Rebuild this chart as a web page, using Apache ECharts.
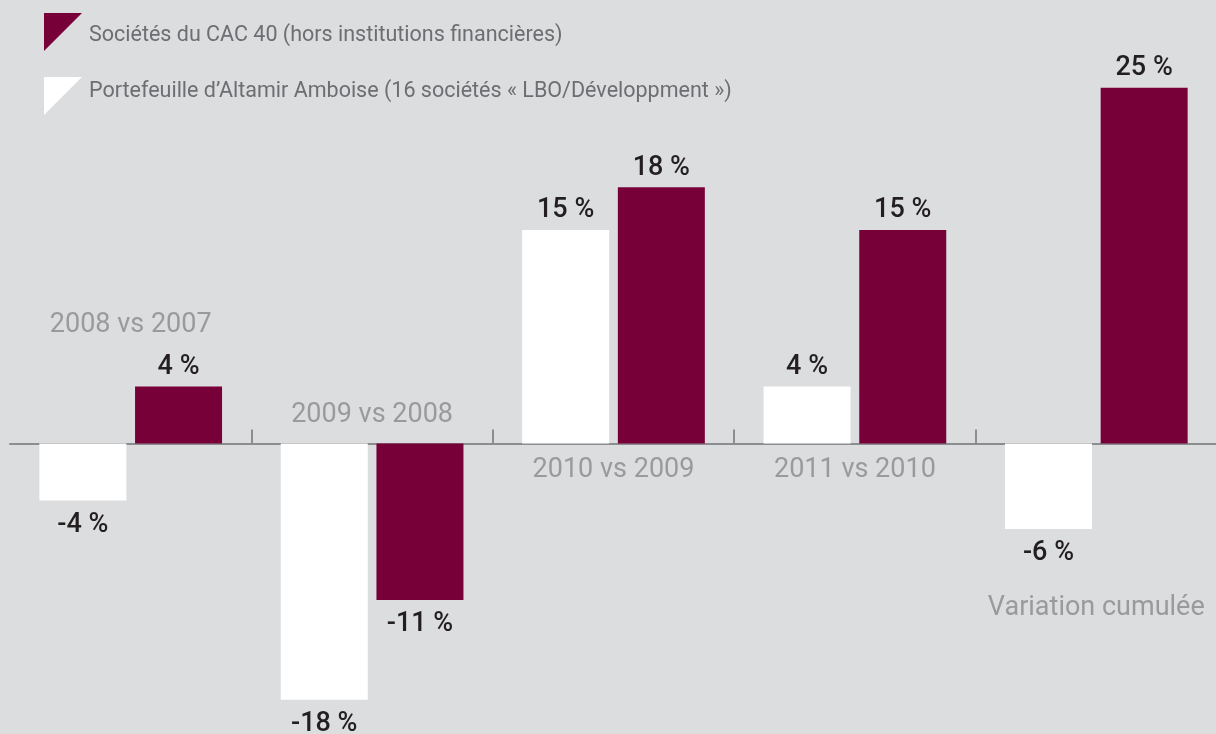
<!DOCTYPE html>
<html><head><meta charset="utf-8">
<script src="https://cdn.jsdelivr.net/npm/echarts@6/dist/echarts.min.js"></script>
<style>html,body{margin:0;padding:0;background:#dcdddf}#c{width:1216px;height:734px}</style>
</head><body><div id="c"></div>
<script>
const categories = ['2008 vs 2007', '2009 vs 2008', '2010 vs 2009', '2011 vs 2010', 'Variation cumulée'];
const altamirValues = [-4, -18, 15, 4, -6];
const cacValues = [4, -11, 18, 15, 25];
const altamirName = 'Portefeuille d’Altamir Amboise (16 sociétés « LBO/Développment »)';
const cacName = 'Sociétés du CAC 40 (hors institutions financières)';

// vertical placement (in axis units) of each category name, above or below the zero line
const categoryLabelLevels = [8.3, 2.0, -1.85, -1.85, -11.6];

const MAROON = '#780039';
const FONT = 'Roboto, "Noto Sans", sans-serif';

const chart = echarts.init(document.getElementById('c'), null, {renderer: 'canvas'});
const valueLabel = {
  show: true,
  position: 'outside',
  distance: 6,
  fontFamily: FONT,
  fontSize: 27,
  fontWeight: 500,
  color: '#231f20',
  formatter: p => Math.round(p.value) + ' %'
};
const barData = values => values.map(v => ({value: v, label: {distance: v < 0 ? 11 : 6}}));
const legendTextBase = {fontFamily: FONT, fontSize: 21.5, color: '#6d6e71'};
chart.setOption({
  animation: false,
  backgroundColor: '#dcdddf',
  legend: {
    orient: 'vertical',
    left: 44,
    top: 13,
    padding: 0,
    itemWidth: 38,
    itemHeight: 38,
    itemGap: 26,
    selectedMode: false,
    icon: 'path://M0,0L38,0L0,38Z',
    data: [cacName, altamirName],
    formatter: name => (name === cacName ? '{lo|' : '{hi|') + name + '}',
    textStyle: Object.assign({}, legendTextBase, {
      padding: [0, 0, 0, 2],
      rich: {
        lo: Object.assign({}, legendTextBase, {padding: [8, 0, 0, 0]}),
        hi: Object.assign({}, legendTextBase, {padding: [0, 0, 8, 0]})
      }
    })
  },
  grid: {left: 10, right: -1, top: 16.6, bottom: 5.9, containLabel: false, outerBoundsMode: 'none'},
  xAxis: {
    type: 'category',
    data: categories,
    axisLine: {show: true, onZero: true, lineStyle: {color: '#8c8d8f', width: 2}},
    axisTick: {show: true, inside: true, length: 14, lineStyle: {color: '#8c8d8f', width: 2},
      interval: (idx) => idx !== 0},
    axisLabel: {show: false},
    splitLine: {show: false}
  },
  yAxis: {type: 'value', min: -20, max: 30, show: false},
  series: [
    {name: altamirName, type: 'bar', data: barData(altamirValues), barWidth: 87, barGap: '10%',
     itemStyle: {color: '#ffffff'}, label: valueLabel},
    {name: cacName, type: 'bar', data: barData(cacValues), barWidth: 87, barGap: '10%',
     itemStyle: {color: MAROON}, label: valueLabel},
    {name: 'categoryNames', type: 'scatter', silent: true, symbolSize: 0, z: 5,
     data: categories.map((c, i) => [c, categoryLabelLevels[i]]),
     label: {show: true, position: 'inside', fontFamily: FONT, fontSize: 27, color: '#88898b',
       formatter: p => p.value[0]}}
  ]
});
</script>
</body></html>
